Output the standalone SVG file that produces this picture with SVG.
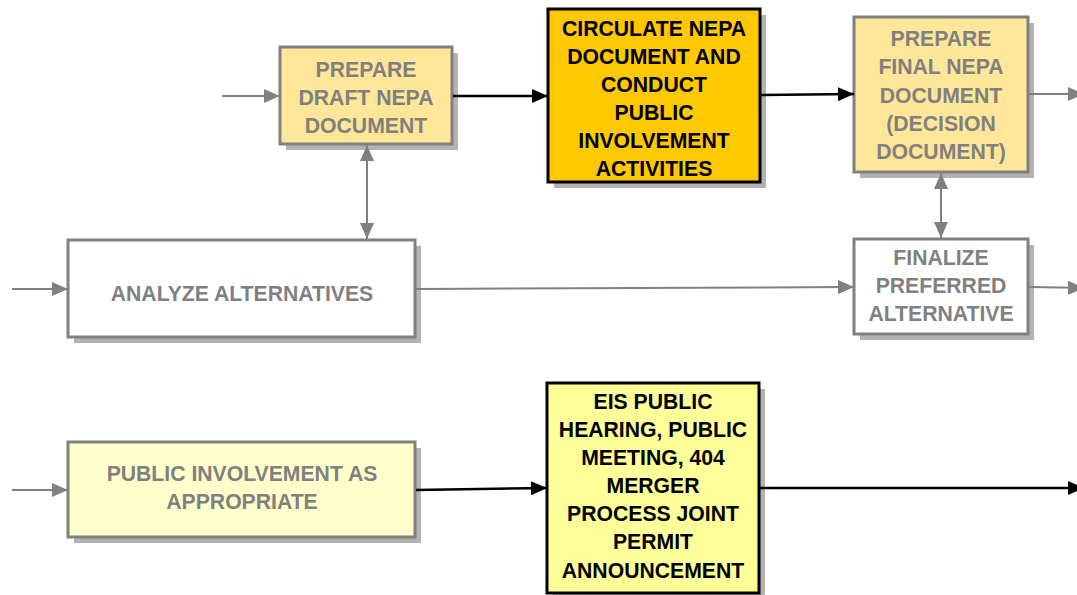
<svg xmlns="http://www.w3.org/2000/svg" width="1077" height="595" viewBox="0 0 1077 595">
<style>
.sh{fill:#b3b3b3}
.box{stroke-width:3}
.g{stroke:#808080}
.k{stroke:#000}
text{font-family:"Liberation Sans",Arial,sans-serif;font-weight:bold;font-size:21.2px;text-anchor:middle}
.tg{fill:#808080}
.tk{fill:#000}
.cg{stroke:#808080;stroke-width:2;fill:none}
.ck{stroke:#000;stroke-width:2.5;fill:none}
</style>
<defs>
<marker id="ag" markerUnits="userSpaceOnUse" markerWidth="16" markerHeight="14" refX="16" refY="7" orient="auto-start-reverse"><path d="M0,0 L16,7 L0,14 Z" fill="#808080"/></marker>
<marker id="ak" markerUnits="userSpaceOnUse" markerWidth="16" markerHeight="14" refX="16" refY="7" orient="auto-start-reverse"><path d="M0,0 L16,7 L0,14 Z" fill="#000"/></marker>
</defs>
<rect width="1077" height="595" fill="#fff"/>
<g id="prepare-draft">
<rect class="sh" x="286" y="53" width="172" height="97"/>
<rect class="box g" x="280" y="47" width="172" height="97" fill="#ffe699"/>
<text class="tg" x="366" y="77">PREPARE</text>
<text class="tg" x="366" y="105">DRAFT NEPA</text>
<text class="tg" x="366" y="133">DOCUMENT</text>
</g>
<g id="circulate">
<rect class="sh" x="554" y="15" width="212" height="173"/>
<rect class="box k" x="548" y="9" width="212" height="173" fill="#ffc800"/>
<text class="tk" x="654" y="36">CIRCULATE NEPA</text>
<text class="tk" x="654" y="64">DOCUMENT AND</text>
<text class="tk" x="654" y="92">CONDUCT</text>
<text class="tk" x="654" y="120">PUBLIC</text>
<text class="tk" x="654" y="148">INVOLVEMENT</text>
<text class="tk" x="654" y="176">ACTIVITIES</text>
</g>
<g id="prepare-final">
<rect class="sh" x="860" y="23" width="174" height="155"/>
<rect class="box g" x="854" y="17" width="174" height="155" fill="#ffe699"/>
<text class="tg" x="941" y="46">PREPARE</text>
<text class="tg" x="941" y="74">FINAL NEPA</text>
<text class="tg" x="941" y="103">DOCUMENT</text>
<text class="tg" x="941" y="131">(DECISION</text>
<text class="tg" x="941" y="159">DOCUMENT)</text>
</g>
<g id="finalize">
<rect class="sh" x="860" y="245" width="174" height="95"/>
<rect class="box g" x="854" y="239" width="174" height="95" fill="#fff"/>
<text class="tg" x="941" y="265">FINALIZE</text>
<text class="tg" x="941" y="293">PREFERRED</text>
<text class="tg" x="941" y="321">ALTERNATIVE</text>
</g>
<g id="analyze">
<rect class="sh" x="74" y="246" width="347" height="97"/>
<rect class="box g" x="68" y="240" width="347" height="97" fill="#fff"/>
<text class="tg" x="242" y="301">ANALYZE ALTERNATIVES</text>
</g>
<g id="public-involvement">
<rect class="sh" x="74" y="448" width="347" height="95"/>
<rect class="box g" x="68" y="442" width="347" height="95" fill="#ffffcc"/>
<text class="tg" x="242" y="481">PUBLIC INVOLVEMENT AS</text>
<text class="tg" x="242" y="509">APPROPRIATE</text>
</g>
<g id="eis-hearing">
<rect class="sh" x="553" y="389" width="212" height="210"/>
<rect class="box k" x="547" y="383" width="212" height="210" fill="#ffff99"/>
<text class="tk" x="653" y="409">EIS PUBLIC</text>
<text class="tk" x="653" y="437">HEARING, PUBLIC</text>
<text class="tk" x="653" y="465">MEETING, 404</text>
<text class="tk" x="653" y="493">MERGER</text>
<text class="tk" x="653" y="521">PROCESS JOINT</text>
<text class="tk" x="653" y="549">PERMIT</text>
<text class="tk" x="653" y="578">ANNOUNCEMENT</text>
</g>
<g id="connectors">
<line class="cg" x1="222" y1="96" x2="280" y2="96" marker-end="url(#ag)"/>
<line class="ck" x1="453" y1="96" x2="548" y2="96" marker-end="url(#ak)"/>
<line class="ck" x1="761" y1="95" x2="854" y2="94" marker-end="url(#ak)"/>
<line class="cg" x1="1029" y1="94" x2="1084" y2="94" marker-end="url(#ag)"/>
<line class="cg" x1="367" y1="145" x2="367" y2="239" marker-start="url(#ag)" marker-end="url(#ag)"/>
<line class="cg" x1="941" y1="173" x2="941" y2="238" marker-start="url(#ag)" marker-end="url(#ag)"/>
<line class="cg" x1="12" y1="289" x2="68" y2="289" marker-end="url(#ag)"/>
<line class="cg" x1="416" y1="289" x2="854" y2="287" marker-end="url(#ag)"/>
<line class="cg" x1="1029" y1="287" x2="1084" y2="288" marker-end="url(#ag)"/>
<line class="cg" x1="12" y1="490" x2="68" y2="490" marker-end="url(#ag)"/>
<line class="ck" x1="416" y1="490" x2="547" y2="488" marker-end="url(#ak)"/>
<line class="ck" x1="760" y1="488" x2="1084" y2="488" marker-end="url(#ak)"/>
</g>
</svg>
